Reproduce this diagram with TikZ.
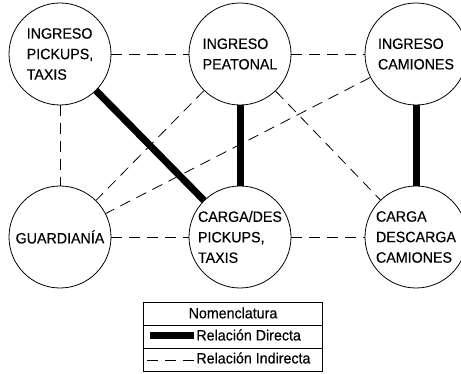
\documentclass[tikz,border=0pt]{standalone}
\usepackage{fontspec}
\setmainfont{Liberation Sans}[FakeStretch=0.95, FakeBold=0.35]
\tikzset{
  area/.style={circle, draw, minimum size=102pt, inner sep=0pt, align=left},
  direct/.style={line width=7pt},
  indirect/.style={dash pattern=on 11pt off 7pt},
}
\begin{document}
\begin{tikzpicture}[x=1pt, y=-1pt, line width=0.8pt, font=\fontsize{15}{20.5}\selectfont]
    \useasboundingbox (0,0) rectangle (461,374);

    % Areas
    \node[area] (pick) at (60,54) {INGRESO\\PICKUPS,\\TAXIS};
    \node[area] (peat) at (240,54) {INGRESO\\PEATONAL};
    \node[area] (cam) at (416,54) {INGRESO\\CAMIONES};
    \node[area] (guard) at (60,237) {GUARDIANÍA};
    \node[area] (cpick) at (240,237) {CARGA/DES\\PICKUPS,\\TAXIS};
    \node[area] (ccam) at (416,237) {CARGA\\DESCARGA\\CAMIONES};

    % Direct relations
    \draw[direct] (pick) -- (cpick);
    \draw[direct] (peat) -- (cpick);
    \draw[direct] (cam) -- (ccam);

    % Indirect relations
    \draw[indirect] (pick) -- (peat);
    \draw[indirect] (peat) -- (cam);
    \draw[indirect] (pick) -- (guard);
    \draw[indirect] (guard) -- (cpick);
    \draw[indirect] (cpick) -- (ccam);
    \draw[indirect] (peat) -- (guard);
    \draw[indirect] (cam) -- (guard);
    \draw[indirect] (peat) -- (ccam);

    % Legend
    \draw (143,302) rectangle (322,371);
    \draw (143,325) -- (322,325);
    \draw (143,348) -- (322,348);
    \node (nom) at (233,313) {Nomenclatura};
    \node[anchor=west, inner sep=2pt] (dir) at (194,335) {Relación Directa};
    \node[anchor=west, inner sep=2pt] (ind) at (194,358) {Relación Indirecta};
    \coordinate (d0) at (150,336);
    \coordinate (i0) at (147,360);
    \draw[direct] (d0) -- (d0 -| dir.west);
    \draw[indirect] (i0) -- (i0 -| ind.west);
\end{tikzpicture}
\end{document}
